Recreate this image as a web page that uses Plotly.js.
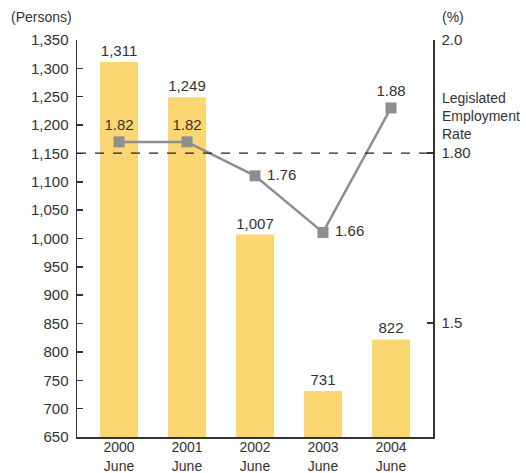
<!DOCTYPE html>
<html><head><meta charset="utf-8">
<script src="https://cdn.plot.ly/plotly-3.0.1.min.js"></script>
<style>body{margin:0;background:#fff}#c{width:526px;height:473px}</style>
</head><body><div id="c"></div>
<script>
const years = ['2000<br>June','2001<br>June','2002<br>June','2003<br>June','2004<br>June'];
const persons = [1311, 1249, 1007, 731, 822];
const rates = [1.82, 1.82, 1.76, 1.66, 1.88];
const rateLabels = ['1.82','1.82','1.76','1.66','1.88'];
const legislatedRate = 1.80;
const leftTicks = [650,700,750,800,850,900,950,1000,1050,1100,1150,1200,1250,1300,1350];
const rightTicks = [1.5, 1.80, 2.0];
const rightTickText = ['1.5','1.80','2.0'];

const xs = years.map((_, i) => i);
const FONT = '"Liberation Sans Narrow", "Arial Narrow", "Liberation Sans", Arial, sans-serif';
const TXT = '#333333';

const bars = {
  type: 'bar', x: xs, y: persons, width: 0.56,
  marker: {color: '#FDD674'},
  text: persons.map(v => v.toLocaleString('en-US')),
  textposition: 'outside', cliponaxis: false,
  textfont: {family: FONT, size: 15, color: TXT},
  hoverinfo: 'none'
};
const line = {
  type: 'scatter', mode: 'lines+markers+text', x: xs, y: rates, yaxis: 'y2',
  line: {color: '#8E8E8E', width: 2.5},
  marker: {symbol: 'square', size: 11, color: '#8E8E8E'},
  text: rateLabels.map((t, i) => (i === 2 || i === 3) ? ' ' + t : t),
  textposition: ['top center','top center','middle right','middle right','top center'],
  textfont: {family: FONT, size: 15, color: TXT},
  cliponaxis: false, hoverinfo: 'none'
};

const layout = {
  width: 526, height: 473,
  margin: {l: 77, r: 93, t: 40, b: 36},
  paper_bgcolor: '#fff', plot_bgcolor: '#fff',
  showlegend: false,
  font: {family: FONT, size: 15, color: TXT},
  xaxis: {
    range: [-0.618, 4.618], tickvals: xs, ticktext: years,
    showline: true, linecolor: '#333', linewidth: 1.5, ticks: '',
    showgrid: false, zeroline: false, fixedrange: true, ticklabelstandoff: -3,
    tickfont: {family: FONT, size: 14, color: TXT}
  },
  yaxis: {
    range: [650, 1350], tickvals: leftTicks,
    ticktext: leftTicks.map(v => v.toLocaleString('en-US')),
    showline: true, linecolor: '#333', linewidth: 1.5,
    ticks: 'inside', ticklen: 6, tickcolor: '#333', tickwidth: 1.5,
    showgrid: false, zeroline: false, ticklabelstandoff: 4,
    tickfont: {family: FONT, size: 15, color: TXT}
  },
  yaxis2: {
    overlaying: 'y', side: 'right', range: [1.2986, 2.0],
    tickvals: rightTicks, ticktext: rightTickText,
    showline: true, linecolor: '#333', linewidth: 1.5,
    ticks: 'inside', ticklen: 6, tickcolor: '#333', tickwidth: 1.5,
    showgrid: false, zeroline: false, ticklabelstandoff: 4,
    tickfont: {family: FONT, size: 15, color: TXT}
  },
  shapes: [{
    type: 'line', xref: 'paper', yref: 'y2', x0: 0, x1: 1,
    y0: legislatedRate, y1: legislatedRate,
    line: {color: '#222', width: 1.2, dash: 'dash'}
  }],
  annotations: [
    {text: '(Persons)', xref: 'paper', yref: 'paper', x: -0.19, y: 1.0, yshift: 23,
     xanchor: 'left', yanchor: 'middle', showarrow: false, font: {family: FONT, size: 14, color: TXT}},
    {text: '(%)', xref: 'paper', yref: 'paper', x: 1.0, xshift: 7, y: 1.0, yshift: 23,
     xanchor: 'left', yanchor: 'middle', showarrow: false, font: {family: FONT, size: 14, color: TXT}},
    {text: 'Legislated<br>Employment<br>Rate', xref: 'paper', yref: 'y2', x: 1.0, xshift: 7,
     y: legislatedRate, yshift: 9, xanchor: 'left', yanchor: 'bottom', align: 'left',
     showarrow: false, font: {family: FONT, size: 14, color: TXT}}
  ]
};
Plotly.newPlot('c', [bars, line], layout, {displayModeBar: false, staticPlot: true});
</script></body></html>
